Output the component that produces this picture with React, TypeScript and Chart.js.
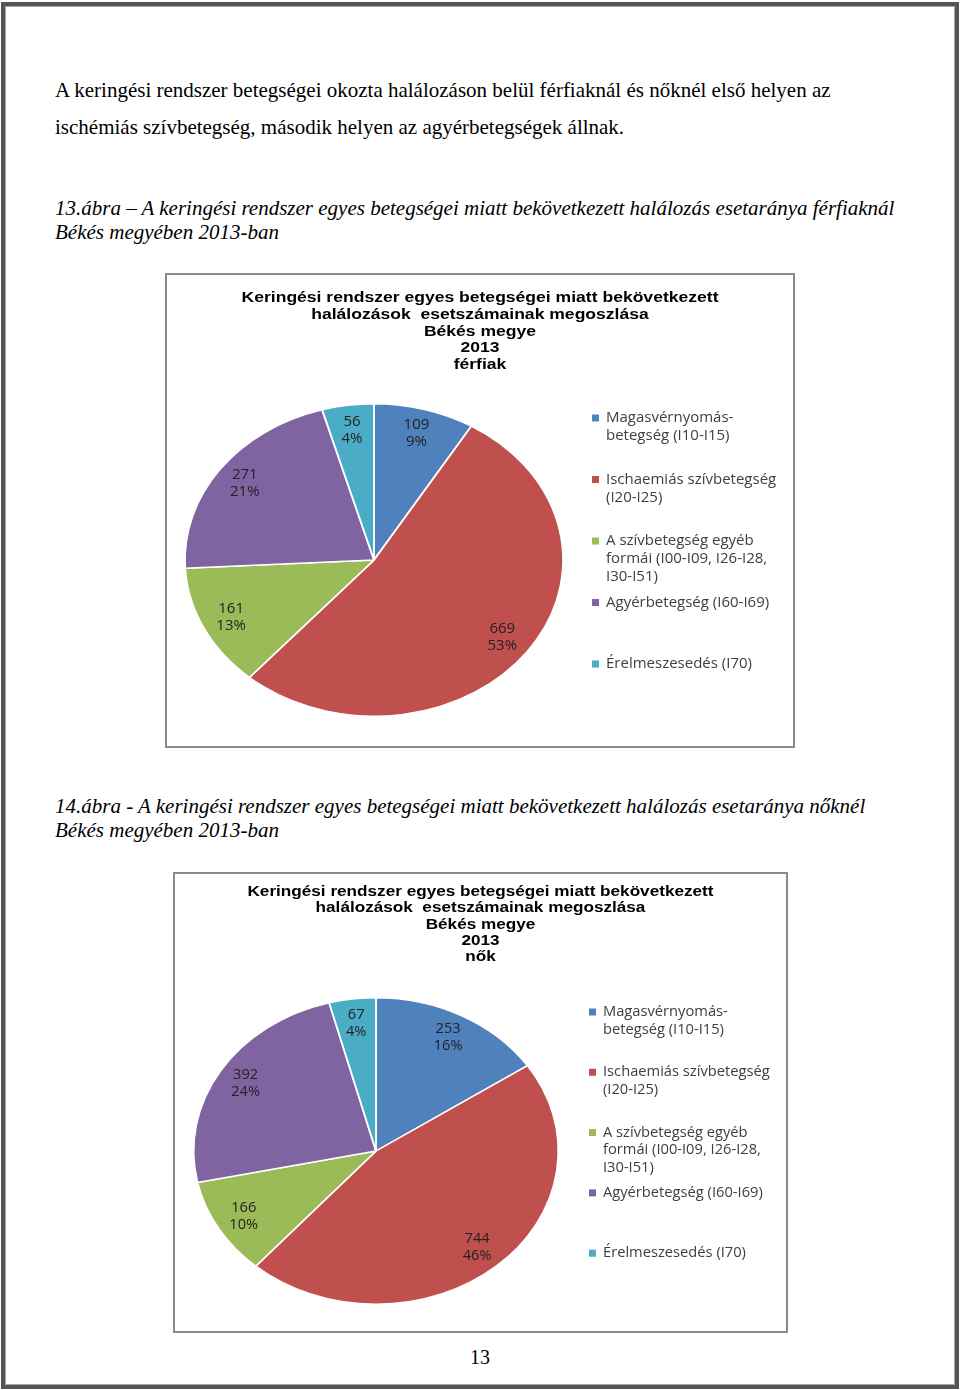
import React, { useEffect, useRef } from "react";
import { Chart, registerables } from "chart.js";
Chart.register(...registerables);

// ---- data ----
const categoryNames = [
  "Magasvérnyomás-betegség (I10-I15)",
  "Ischaemiás szívbetegség (I20-I25)",
  "A szívbetegség egyéb formái (I00-I09, I26-I28, I30-I51)",
  "Agyérbetegség (I60-I69)",
  "Érelmeszesedés (I70)",
];
const legendLines = [
  ["Magasvérnyomás-", "betegség (I10-I15)"],
  ["Ischaemiás szívbetegség", "(I20-I25)"],
  ["A szívbetegség egyéb", "formái (I00-I09, I26-I28,", "I30-I51)"],
  ["Agyérbetegség (I60-I69)"],
  ["Érelmeszesedés (I70)"],
];
const maleValues = [109, 669, 161, 271, 56];
const femaleValues = [253, 744, 166, 392, 67];
const maleTitle = [
  "Keringési rendszer egyes betegségei miatt bekövetkezett",
  "halálozások  esetszámainak megoszlása",
  "Békés megye",
  "2013",
  "férfiak",
];
const femaleTitle = [
  "Keringési rendszer egyes betegségei miatt bekövetkezett",
  "halálozások  esetszámainak megoszlása",
  "Békés megye",
  "2013",
  "nők",
];
const sliceColors = ["#4F81BD", "#C0504D", "#9BBB59", "#8064A2", "#4BACC6"];

const ellipsePie = {
  id: "ellipsePie",
  beforeDatasetsDraw(chart: any, _a: any, opts: any) {
    const arc = chart.getDatasetMeta(0).data[0];
    const { x, y } = arc.getProps(["x", "y"], true);
    const ctx = chart.ctx;
    ctx.save();
    ctx.translate(x, y);
    ctx.scale(opts.sx, 1);
    ctx.translate(-x, -y);
  },
  afterDatasetsDraw(chart: any, _a: any, opts: any) {
    const ctx = chart.ctx;
    ctx.restore();
    const meta = chart.getDatasetMeta(0);
    const values: number[] = chart.data.datasets[0].data;
    const total = values.reduce((a, b) => a + b, 0);
    ctx.save();
    ctx.font = opts.labelFont;
    ctx.fillStyle = opts.labelColor;
    ctx.textAlign = "center";
    ctx.textBaseline = "middle";
    meta.data.forEach((arc: any, i: number) => {
      const p = arc.getProps(["x", "y", "startAngle", "endAngle", "outerRadius"], true);
      const mid = (p.startAngle + p.endAngle) / 2;
      const r = p.outerRadius * opts.labelR;
      const lx = p.x + Math.cos(mid) * r * opts.sx;
      const ly = p.y + Math.sin(mid) * r;
      const pct = Math.round((values[i] / total) * 100) + "%";
      ctx.fillText(String(values[i]), lx, ly - opts.labelLH / 2);
      ctx.fillText(pct, lx, ly + opts.labelLH / 2);
    });
    ctx.restore();
  },
  afterDraw(chart: any, _a: any, opts: any) {
    const ctx = chart.ctx;
    const colors = chart.data.datasets[0].backgroundColor;
    // title (horizontally stretched like the original image)
    ctx.save();
    ctx.font = opts.titleFont;
    ctx.fillStyle = "#000";
    ctx.textAlign = "center";
    ctx.textBaseline = "middle";
    ctx.translate(chart.width / 2, 0);
    ctx.scale(opts.titleSx, 1);
    (opts.title as string[]).forEach((t, j) => ctx.fillText(t, 0, opts.titleY0 + j * opts.titleLH));
    ctx.restore();
    // legend
    ctx.save();
    ctx.font = opts.legendFont;
    ctx.textAlign = "left";
    ctx.textBaseline = "middle";
    legendLines.forEach((lines, i) => {
      const y = opts.legendY0 + i * opts.legendStep;
      ctx.fillStyle = colors[i];
      ctx.fillRect(opts.markerX, y - 3.5, 7, 7);
      ctx.fillStyle = opts.legendColor;
      lines.forEach((t, j) => ctx.fillText(t, opts.textX, y + j * opts.legendLH));
    });
    ctx.restore();
  },
};

function PieBox(props: {
  values: number[];
  left: number;
  top: number;
  width: number;
  height: number;
  pad: { left: number; right: number; top: number; bottom: number };
  plug: any;
}) {
  const ref = useRef<HTMLCanvasElement>(null);
  useEffect(() => {
    const chart = new Chart(ref.current as HTMLCanvasElement, {
      type: "pie",
      data: {
        labels: categoryNames,
        datasets: [
          {
            data: props.values,
            backgroundColor: sliceColors,
            borderColor: "#ffffff",
            borderWidth: 1.5,
          },
        ],
      },
      options: {
        animation: false,
        responsive: false,
        layout: { padding: props.pad },
        plugins: {
          legend: { display: false },
          tooltip: { enabled: false },
          title: { display: false },
          ellipsePie: props.plug,
        } as any,
      },
      plugins: [ellipsePie],
    });
    return () => chart.destroy();
  }, []);
  return (
    <div
      style={{
        position: "absolute",
        left: props.left,
        top: props.top,
        width: props.width,
        height: props.height,
        border: "2px solid #8a8a8a",
        boxSizing: "border-box",
        background: "#fff",
      }}
    >
      <canvas ref={ref} width={props.width - 4} height={props.height - 4} style={{ display: "block" }} />
    </div>
  );
}

const serif = "'Liberation Serif', 'Times New Roman', serif";

function Line(props: { x: number; cy: number; size: number; italic?: boolean; children: any; center?: boolean }) {
  const lh = Math.round(props.size * 1.2);
  return (
    <div
      style={{
        position: "absolute",
        left: props.center ? 0 : props.x,
        width: props.center ? 960 : undefined,
        textAlign: props.center ? "center" : "left",
        top: props.cy - lh / 2,
        lineHeight: lh + "px",
        fontSize: props.size,
        fontFamily: serif,
        fontStyle: props.italic ? "italic" : "normal",
        whiteSpace: "nowrap",
        color: "#000",
      }}
    >
      {props.children}
    </div>
  );
}

export default function App() {
  return (
    <div style={{ position: "absolute", left: 0, top: 0, width: 960, height: 1390, background: "#fff", overflow: "hidden" }}>
      <div
        style={{
          position: "absolute",
          left: 1,
          top: 2,
          width: 958,
          height: 1387,
          boxSizing: "border-box",
          border: "4px solid #555",
          boxShadow: "inset 0 0 0 1px #a8a8a8",
        }}
      />
      <Line x={55} cy={90} size={21}>
        A keringési rendszer betegségei okozta halálozáson belül férfiaknál és nőknél első helyen az
      </Line>
      <Line x={55} cy={127} size={21}>
        ischémiás szívbetegség, második helyen az agyérbetegségek állnak.
      </Line>
      <Line x={55} cy={208} size={21} italic>
        13.ábra – A keringési rendszer egyes betegségei miatt bekövetkezett halálozás esetaránya férfiaknál
      </Line>
      <Line x={55} cy={232} size={21} italic>
        Békés megyében 2013-ban
      </Line>
      <PieBox
        values={maleValues}
        left={165}
        top={273}
        width={630}
        height={475}
        pad={{ left: 50, right: 262, top: 128, bottom: 29 }}
        plug={{
          sx: 1.21,
          title: maleTitle,
          titleFont: "bold 15px 'Liberation Sans', Arial, sans-serif",
          titleSx: 1.17,
          titleY0: 23,
          titleLH: 16.75,
          labelR: 0.84,
          labelFont: "15px 'Open Sans', sans-serif",
          labelColor: "#222",
          labelLH: 17,
          legendFont: "15px 'Open Sans', sans-serif",
          legendColor: "#404040",
          markerX: 425,
          textX: 439,
          legendY0: 143,
          legendStep: 61.5,
          legendLH: 18,
        }}
      />
      <Line x={55} cy={806} size={21} italic>
        14.ábra - A keringési rendszer egyes betegségei miatt bekövetkezett halálozás esetaránya nőknél
      </Line>
      <Line x={55} cy={830} size={21} italic>
        Békés megyében 2013-ban
      </Line>
      <PieBox
        values={femaleValues}
        left={173}
        top={872}
        width={615}
        height={461}
        pad={{ left: 47, right: 256, top: 123, bottom: 26 }}
        plug={{
          sx: 1.19,
          title: femaleTitle,
          titleFont: "bold 14.6px 'Liberation Sans', Arial, sans-serif",
          titleSx: 1.175,
          titleY0: 18,
          titleLH: 16.3,
          labelR: 0.84,
          labelFont: "14.6px 'Open Sans', sans-serif",
          labelColor: "#222",
          labelLH: 17,
          legendFont: "14.7px 'Open Sans', sans-serif",
          legendColor: "#404040",
          markerX: 414,
          textX: 428,
          legendY0: 138,
          legendStep: 60.3,
          legendLH: 17.5,
        }}
      />
      <Line x={0} cy={1357} size={20} center>
        13
      </Line>
    </div>
  );
}
